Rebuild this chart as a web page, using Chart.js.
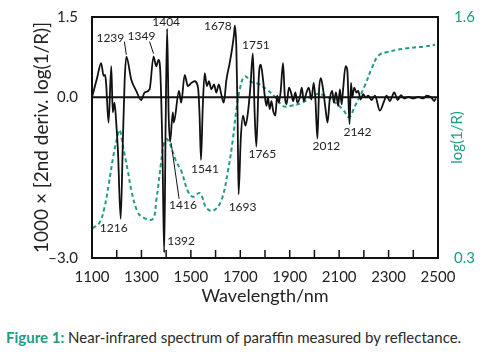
<!DOCTYPE html>
<html>
<head>
<meta charset="utf-8">
<script src="https://cdn.jsdelivr.net/npm/chart.js@4.4.1/dist/chart.umd.min.js"></script>
<style>
  body { margin: 0; background: #fff; }
  #wrap { position: relative; width: 487px; height: 362px; }
  #caption {
    position: absolute; left: 6px; top: 328px;
    font-family: Lato, sans-serif; font-size: 15px; color: #2a2a2a; white-space: nowrap;
  }
  #caption b { color: #1f9c84; }
</style>
</head>
<body>
<div id="wrap">
  <canvas id="myChart" width="487" height="320"></canvas>
  <div id="caption"><b>Figure 1:</b> Near-infrared spectrum of paraffin measured by reflectance.</div>
</div>
<script>
// 2nd derivative spectrum (x1000)
const derivNm = [1100, 1120, 1137, 1147, 1153, 1157, 1167, 1178, 1184, 1191, 1198, 1205, 1216, 1225, 1232, 1239,
  1259, 1279, 1299, 1313, 1333, 1349, 1360, 1369, 1376, 1385, 1392, 1398, 1404, 1410, 1416, 1427, 1431,
  1452, 1461, 1475, 1488, 1502, 1515, 1529, 1535, 1541, 1548, 1556, 1565, 1573, 1583, 1594, 1603, 1613,
  1623, 1633, 1644, 1657, 1666, 1675, 1678, 1684, 1689, 1693, 1702, 1711, 1721, 1731, 1741, 1751, 1758,
  1765, 1775, 1783, 1792, 1799, 1806, 1812, 1819, 1826, 1833, 1842, 1849, 1856, 1863, 1873, 1880, 1887,
  1897, 1907, 1914, 1923, 1931, 1941, 1949, 1957, 1968, 1977, 1988, 1997, 2004, 2012, 2019, 2026, 2035,
  2045, 2053, 2062, 2072, 2079, 2087, 2096, 2103, 2110, 2116, 2126, 2133, 2142, 2148, 2153, 2161, 2170,
  2177, 2187, 2197, 2207, 2218, 2231, 2245, 2265, 2282, 2292, 2305, 2323, 2337, 2350, 2363, 2380, 2400,
  2420, 2440, 2454, 2472, 2485, 2491];
const derivVal = [0, 0.35, 0.64, 0.40, 0.42, 0.27, -0.47, 0.58, -0.28, -0.10, -0.47, -1.0, -2.27, -0.8, 0.3, 0.76,
  0.33, 0.12, -0.05, 0.09, 0.15, 0.76, 0.58, 0.70, 0.51, -1.0, -2.9, -0.5, 1.28, -0.3, -0.83, -0.28, -0.47,
  0.12, -0.10, 0.42, 0.21, 0.27, 0.30, 0.18, -0.3, -1.17, -0.2, 0.45, 0.21, 0.30, 0.15, 0.24, 0.09, 0.24,
  0.06, -0.10, 0.33, 0.64, 0.88, 1.19, 1.34, 0.94, -0.28, -1.81, -0.77, -0.34, -0.53, -0.28, 0.2, 0.82, -0.28,
  -0.92, 0.39, 0.61, 0.33, 0.03, -0.16, 0.00, -0.22, -0.07, -0.25, -0.34, 0.03, -0.10, 0.09, 0.64, 0.03, -0.13,
  0.18, 0.06, -0.07, 0.09, -0.10, 0.00, 0.18, -0.07, 0.09, 0.18, -0.04, 0.27, -0.04, -0.77, 0.15, 0.36, 0.15,
  -0.22, -0.47, -0.04, 0.12, -0.10, 0.09, -0.16, 0.15, -0.13, 0.15, 0.58, 0.51, -0.50, 0.27, 0.00, 0.18, 0.09,
  0.12, -0.04, 0.06, 0.00, 0.03, -0.05, 0.03, -0.25, -0.07, 0.03, -0.07, 0.09, -0.05, 0.04, -0.02, 0.01, -0.02,
  0.01, -0.02, 0.03, 0.00, -0.07, -0.02];

// log(1/R) spectrum
const absNm = [1103, 1130, 1150, 1168, 1185, 1200, 1212, 1224, 1245, 1260, 1284, 1305, 1345, 1360, 1380, 1390,
  1405, 1441, 1461, 1488, 1508, 1536, 1563, 1590, 1623, 1650, 1670, 1684, 1698, 1711, 1722, 1745, 1772,
  1806, 1840, 1873, 1900, 1954, 1995, 2035, 2062, 2116, 2140, 2164, 2204, 2231, 2258, 2292, 2366, 2440, 2488];
const absVal = [0.46, 0.49, 0.57, 0.70, 0.84, 0.94, 0.99, 0.91, 0.77, 0.66, 0.55, 0.52, 0.51, 0.61, 0.82, 0.91,
  0.94, 0.82, 0.77, 0.66, 0.63, 0.65, 0.57, 0.555, 0.61, 0.77, 0.94, 1.10, 1.21, 1.27, 1.28, 1.25, 1.24,
  1.21, 1.17, 1.12, 1.12, 1.14, 1.18, 1.18, 1.16, 1.10, 1.06, 1.12, 1.23, 1.32, 1.39, 1.41, 1.43, 1.44, 1.45];

const peakLabels = [1216, 1239, 1349, 1392, 1404, 1416, 1541, 1678, 1693, 1751, 1765, 2012, 2142];

const xTicks = [1100, 1200, 1300, 1400, 1500, 1600, 1700, 1800, 1900, 2000, 2100, 2200, 2300, 2400, 2500];
const leftTicks = [-3.0, 0.0, 1.5];
const rightTicks = [0.3, 1.6];

const teal = '#1f9c84';
const ink = '#111';
const font = 'Lato, sans-serif';

// label offsets from the peak point (px)
const labelPos = {
  1216: { dx: -7, dy: 9 },
  1239: { dx: -16, dy: -19, lead: [-2, -15, 0, -2] },
  1349: { dx: -12, dy: -21, lead: [-4, -15, 0, -3] },
  1392: { dx: 3, dy: -12, align: 'left' },
  1404: { dx: -1, dy: -7 },
  1416: { dx: -1, dy: 63, align: 'left', lead: [9, 57, 1, 1] },
  1541: { dx: 4, dy: 9 },
  1678: { dx: -17, dy: 1 },
  1693: { dx: 4, dy: 13 },
  1751: { dx: 3, dy: -8 },
  1765: { dx: 6, dy: 8 },
  2012: { dx: 9, dy: 8 },
  2142: { dx: 8, dy: 8 }
};

const decor = {
  id: 'decor',
  afterDatasetsDraw(chart) {
    const { ctx, chartArea: a, scales } = chart;
    const x = scales.x, y = scales.y;
    ctx.save();
    // zero line
    ctx.strokeStyle = ink;
    ctx.lineWidth = 2;
    ctx.beginPath();
    ctx.moveTo(a.left, y.getPixelForValue(0));
    ctx.lineTo(a.right, y.getPixelForValue(0));
    ctx.stroke();
    // frame
    ctx.strokeRect(a.left, a.top, a.right - a.left, a.bottom - a.top);
    // inward ticks
    ctx.lineWidth = 1.5;
    xTicks.slice(1, -1).forEach(v => {
      const px = x.getPixelForValue(v);
      ctx.beginPath();
      ctx.moveTo(px, a.bottom);
      ctx.lineTo(px, a.bottom - 8);
      ctx.stroke();
    });
    // peak labels
    ctx.font = '12px ' + font;
    ctx.fillStyle = '#222';
    ctx.textBaseline = 'middle';
    ctx.lineWidth = 1;
    peakLabels.forEach(nm => {
      const i = derivNm.indexOf(nm);
      const px = x.getPixelForValue(nm), py = y.getPixelForValue(derivVal[i]);
      const p = labelPos[nm];
      ctx.textAlign = p.align || 'center';
      ctx.fillText(String(nm), px + p.dx, py + p.dy);
      if (p.lead) {
        ctx.beginPath();
        ctx.moveTo(px + p.lead[0], py + p.lead[1]);
        ctx.lineTo(px + p.lead[2], py + p.lead[3]);
        ctx.stroke();
      }
    });
    // axis titles
    ctx.fillStyle = '#222';
    ctx.textAlign = 'center';
    ctx.font = '18px ' + font;
    ctx.fillText('Wavelength/nm', (a.left + a.right) / 2, 296);
    const midY = (a.top + a.bottom) / 2;
    ctx.save();
    ctx.translate(42, midY);
    ctx.rotate(-Math.PI / 2);
    ctx.font = '19px ' + font;
    ctx.fillText('1000 \u00d7 [2nd deriv. log(1/R)]', 0, 0);
    ctx.restore();
    ctx.save();
    ctx.translate(457, midY);
    ctx.rotate(-Math.PI / 2);
    ctx.font = '15px ' + font;
    ctx.fillStyle = teal;
    ctx.fillText('log(1/R)', 0, 0);
    ctx.restore();
    ctx.restore();
  }
};

const config = {
  type: 'line',
  data: {
    datasets: [{
      label: '2nd derivative',
      data: derivNm.map((v, i) => ({ x: v, y: derivVal[i] })),
      borderColor: ink,
      borderWidth: 1.8,
      pointRadius: 0,
      cubicInterpolationMode: 'monotone',
      yAxisID: 'y'
    }, {
      label: 'log(1/R)',
      data: absNm.map((v, i) => ({ x: v, y: absVal[i] })),
      borderColor: teal,
      borderWidth: 2,
      borderDash: [4, 3],
      pointRadius: 0,
      tension: 0.4,
      yAxisID: 'y2'
    }]
  },
  options: {
    responsive: false,
    animation: false,
    layout: { padding: { top: 13 } },
    plugins: { legend: { display: false }, tooltip: { enabled: false } },
    scales: {
      x: {
        type: 'linear',
        min: 1100, max: 2500,
        afterBuildTicks: s => { s.ticks = xTicks.map(v => ({ value: v })); },
        afterFit: s => { s.height = 62; },
        grid: { display: false }, border: { display: false },
        ticks: {
          autoSkip: false, maxRotation: 0, padding: 2, color: '#222',
          font: { family: font, size: 15 },
          callback: v => ((v - 1100) % 200 === 0 ? String(v) : '')
        }
      },
      y: {
        position: 'left',
        min: -3, max: 1.5,
        afterBuildTicks: s => { s.ticks = leftTicks.map(v => ({ value: v })); },
        afterFit: s => { s.width = 92; },
        grid: { display: false }, border: { display: false },
        ticks: {
          padding: 6, color: '#222',
          font: { family: font, size: 15 },
          callback: v => (v < 0 ? '\u2013' + Math.abs(v).toFixed(1) : v.toFixed(1))
        }
      },
      y2: {
        position: 'right',
        min: 0.3, max: 1.6,
        afterBuildTicks: s => { s.ticks = rightTicks.map(v => ({ value: v })); },
        afterFit: s => { s.width = 49; },
        grid: { display: false }, border: { display: false },
        ticks: {
          padding: 8, color: teal,
          font: { family: font, size: 15 },
          callback: v => v.toFixed(1)
        }
      }
    }
  },
  plugins: [decor]
};

const chart = new Chart(document.getElementById('myChart'), config);
</script>
</body>
</html>
